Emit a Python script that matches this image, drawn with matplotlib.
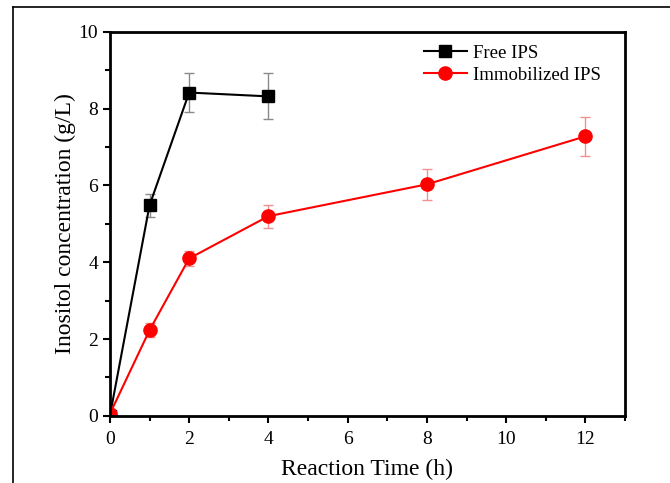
import matplotlib
matplotlib.use("Agg")
import matplotlib.pyplot as plt
from matplotlib.ticker import MultipleLocator
from matplotlib.lines import Line2D

plt.rcParams['font.family'] = ['Liberation Serif', 'DejaVu Serif']

free_t = [0, 1, 2, 4]
free_c = [0.0, 5.48, 8.42, 8.32]
free_err = [0.0, 0.29, 0.5, 0.6]

imm_t = [0, 1, 2, 4, 8, 12]
imm_c = [0.05, 2.23, 4.1, 5.2, 6.03, 7.28]
imm_err = [0.0, 0.18, 0.19, 0.3, 0.4, 0.5]

fig = plt.figure(figsize=(6.7, 4.83), dpi=100)
ax = fig.add_axes([0.164, 0.139, 0.769, 0.795])

ax.errorbar(free_t, free_c, yerr=free_err, color='black', marker='s', markersize=9,
            lw=1.5, ecolor='#8a8a8a', elinewidth=1, capsize=3.5, capthick=1,
            label='Free IPS')
ax.errorbar(imm_t, imm_c, yerr=imm_err, color='red', marker='o', markersize=9.5,
            lw=1.5, ecolor='#f09090', elinewidth=1, capsize=3.5, capthick=1,
            label='Immobilized IPS')

ax.set_xlim(0, 13)
ax.set_ylim(0, 10)
ax.xaxis.set_major_locator(MultipleLocator(2))
ax.xaxis.set_minor_locator(MultipleLocator(1))
ax.yaxis.set_major_locator(MultipleLocator(2))
ax.yaxis.set_minor_locator(MultipleLocator(1))
ax.tick_params(which='major', direction='out', length=5, width=1.5, labelsize=14)
ax.tick_params(axis='x', which='major', pad=6)
ax.tick_params(which='minor', direction='out', length=3.5, width=1.5)
for s in ax.spines.values():
    s.set_linewidth(2)

ax.set_xlabel('Reaction Time (h)', fontsize=17, labelpad=8)
ax.set_ylabel('Inositol concentration (g/L)', fontsize=17, labelpad=2)

handles = [Line2D([], [], color='black', marker='s', markersize=9, lw=1.5),
           Line2D([], [], color='red', marker='o', markersize=9.5, lw=1.5)]
ax.legend(handles, ['Free IPS', 'Immobilized IPS'], loc='upper right',
          frameon=False, fontsize=13.5, handlelength=2.3, handletextpad=0.3,
          labelspacing=0.25, bbox_to_anchor=(0.985, 1.01))

# outer frame of the figure image
fig.add_artist(Line2D([13 / 670, 13 / 670], [0, 1 - 7 / 483], color='black', lw=1.2))
fig.add_artist(Line2D([13 / 670, 1], [1 - 7 / 483, 1 - 7 / 483], color='black', lw=1.2))

fig.savefig('out.png', dpi=100)
